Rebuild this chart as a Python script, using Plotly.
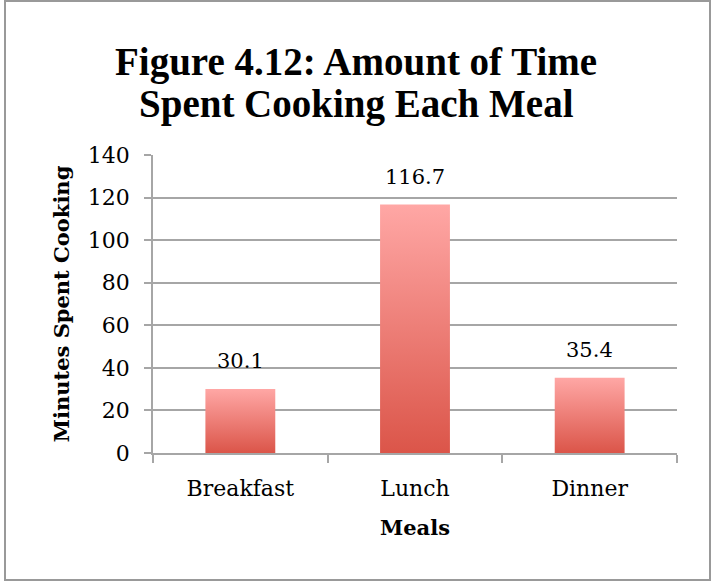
import plotly.graph_objects as go

meals = ["Breakfast", "Lunch", "Dinner"]
minutes = [30.1, 116.7, 35.4]
y_ticks = [0, 20, 40, 60, 80, 100, 120, 140]

title_lines = ["Figure 4.12: Amount of Time", "Spent Cooking Each Meal"]
x_title = "Meals"
y_title = "Minutes Spent Cooking"

bar_width = 0.4
grid = "#A6A6A6"
serif = "DejaVu Serif"

L, R, T, B = 153, 35, 155, 128
W, H = 712, 581
PW, PH = W - L - R, H - T - B

def px_x(px):
    return (px - L) / PW

def px_y(py):
    return (H - B - py) / PH

fig = go.Figure()

for i, (m, v) in enumerate(zip(meals, minutes)):
    x0, x1 = i - bar_width / 2, i + bar_width / 2
    fig.add_trace(go.Scatter(
        x=[x0, x1, x1, x0, x0], y=[0, 0, v, v, 0],
        mode="lines", fill="toself", line=dict(width=0),
        fillgradient=dict(type="vertical",
                          colorscale=[[0, "#DB5549"], [1, "#FFA7A5"]]),
        name=m, showlegend=False, hoverinfo="skip",
    ))

for i, v in enumerate(minutes):
    fig.add_annotation(x=i, y=v, text=f"{v:.1f}", showarrow=False,
                       yanchor="bottom", yshift=14,
                       font=dict(family=serif, size=21, color="black"))

# two-line title
for k, (line, cy) in enumerate(zip(title_lines, [62, 104])):
    fig.add_annotation(xref="paper", yref="paper", x=px_x(W / 2), y=px_y(cy),
                       xanchor="center", yanchor="middle", showarrow=False,
                       text=line,
                       font=dict(family="Liberation Serif", size=39,
                                 color="black", weight="bold"))

fig.update_layout(
    width=W, height=H,
    margin=dict(l=L, r=R, t=T, b=B),
    paper_bgcolor="white", plot_bgcolor="white",
    showlegend=False,
)

fig.update_yaxes(
    range=[0, 140], tickvals=y_ticks, showgrid=True, gridcolor=grid,
    gridwidth=1.5, showline=True, linecolor=grid, linewidth=1.5,
    ticks="outside", ticklen=7, tickcolor=grid, tickwidth=1.5,
    ticklabelstandoff=10, zeroline=False, automargin=False,
    tickfont=dict(family=serif, size=22, color="black"),
    title=dict(text=y_title, standoff=12,
               font=dict(family=serif, size=21, color="black", weight="bold")),
)

fig.update_xaxes(
    range=[-0.5, len(meals) - 0.5], tickmode="array",
    tickvals=list(range(len(meals))), ticktext=meals,
    ticks="", showgrid=False, zeroline=False, showline=True,
    linecolor=grid, linewidth=1.5, automargin=False,
    ticklabelstandoff=15,
    minor=dict(tickmode="array",
               tickvals=[k - 0.5 for k in range(len(meals) + 1)],
               ticks="outside", ticklen=8, tickcolor=grid, tickwidth=1.5,
               showgrid=False),
    tickfont=dict(family=serif, size=22, color="black"),
    title=dict(text=x_title, standoff=20,
               font=dict(family=serif, size=21, color="black", weight="bold")),
)

# outer chart border
fig.add_shape(type="rect", xref="paper", yref="paper",
              x0=px_x(5), x1=px_x(710), y0=px_y(580), y1=px_y(1),
              line=dict(color="#999999", width=2), fillcolor="rgba(0,0,0,0)",
              layer="below")

fig.write_html("out.html", config={"displayModeBar": False},
               post_script="document.body.style.margin='0px';")
